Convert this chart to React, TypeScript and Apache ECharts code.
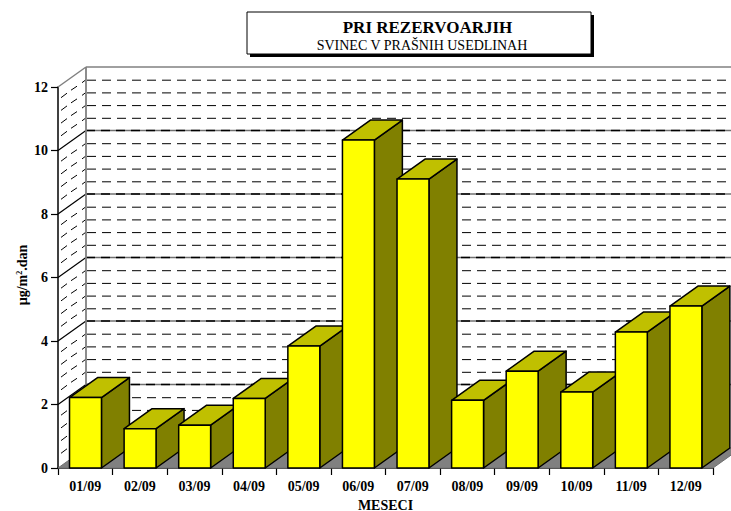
import React, { useEffect, useRef } from "react";
import * as echarts from "echarts";

const categories = ["01/09", "02/09", "03/09", "04/09", "05/09", "06/09", "07/09", "08/09", "09/09", "10/09", "11/09", "12/09"];
const leadValues = [2.22, 1.24, 1.35, 2.19, 3.84, 10.33, 9.1, 2.13, 3.05, 2.39, 4.28, 5.1];
const yTicks = [0.4, 0.8, 1.2, 1.6, 2, 2.4, 2.8, 3.2, 3.6, 4, 4.4, 4.8, 5.2, 5.6, 6, 6.4, 6.8, 7.2, 7.6, 8, 8.4, 8.8, 9.2, 9.6, 10, 10.4, 10.8, 11.2, 11.6, 12];
const titleMain = "PRI REZERVOARJIH";
const titleSub = "SVINEC V PRAŠNIH USEDLINAH";
const xName = "MESECI";
const yName = "{a|µg/m}{s|2}{a|.dan}";

const FONT = "'Liberation Serif', 'Times New Roman', serif";
const DX = 28;
const DY = -20;

export default function App() {
  const ref = useRef<HTMLDivElement>(null);
  useEffect(() => {
    document.body.style.margin = "0";
    const chart = echarts.init(ref.current!, null, { renderer: "svg" });
    const wallItem = (params: any, api: any) => {
      const v = api.value(1);
      const cs = params.coordSys;
      const y = api.coord([0, v])[1];
      const left = cs.x;
      const right = cs.x + cs.width + DX - 1;
      const major = Math.abs(v / 2 - Math.round(v / 2)) < 1e-6;
      const top = Math.abs(v - 12) < 1e-6;
      const children: any[] = [];
      if (top) {
        children.push({ type: "line", shape: { x1: left, y1: y, x2: left + DX, y2: y + DY }, style: { stroke: "#808080", lineWidth: 1.5 } });
        children.push({ type: "line", shape: { x1: left + DX, y1: y + DY, x2: right + 1, y2: y + DY }, style: { stroke: "#808080", lineWidth: 1.5 } });
      } else if (major) {
        children.push({ type: "line", shape: { x1: left, y1: y, x2: left + DX, y2: y + DY }, style: { stroke: "#000", lineWidth: 1.2 } });
        children.push({ type: "line", shape: { x1: left + DX, y1: y + DY, x2: right, y2: y + DY }, style: { stroke: "#707070", lineWidth: 1.5 } });
        children.push({ type: "line", shape: { x1: left + DX, y1: y + DY, x2: right, y2: y + DY }, style: { stroke: "#000", lineWidth: 1.5, lineDash: [9, 6] } });
      } else {
        children.push({ type: "line", shape: { x1: left + 3, y1: y - 2, x2: left + 9, y2: y - 6.5 }, style: { stroke: "#000", lineWidth: 1 } });
        children.push({ type: "line", shape: { x1: left + 13, y1: y - 9.5, x2: left + 19, y2: y - 13.5 }, style: { stroke: "#000", lineWidth: 1 } });
        children.push({ type: "line", shape: { x1: left + 24, y1: y - 17, x2: left + DX, y2: y + DY }, style: { stroke: "#000", lineWidth: 1 } });
        children.push({ type: "line", shape: { x1: left + DX + 1, y1: y + DY + 0.5, x2: right, y2: y + DY + 0.5 }, style: { stroke: "#000", lineWidth: 1, lineDash: [9, 6] } });
      }
      return { type: "group", children };
    };
    const floorItem = (params: any, api: any) => {
      const cs = params.coordSys;
      const y0 = api.coord([0, 0])[1];
      const yTop = api.coord([0, 12])[1];
      const l = cs.x;
      const r = cs.x + cs.width;
      return {
        type: "group",
        children: [
          { type: "polygon", shape: { points: [[l, y0], [l + DX, y0 + DY], [r + DX, y0 + DY], [r, y0]] }, style: { fill: "#808080", stroke: "#707070", lineWidth: 1 } },
          { type: "line", shape: { x1: l + DX, y1: yTop + DY, x2: l + DX, y2: y0 + DY }, style: { stroke: "#808080", lineWidth: 1.8 } },
        ],
      };
    };
    const barItem = (params: any, api: any) => {
      const [cx, yTop] = api.coord([api.value(0), api.value(1)]);
      const y0 = api.coord([api.value(0), 0])[1];
      const w = api.size([1, 0])[0] * 0.585;
      const l = cx - w / 2 + 0.2;
      const r = l + w;
      const line = { stroke: "#000", lineWidth: 1.5, lineJoin: "round" };
      return {
        type: "group",
        children: [
          { type: "polygon", shape: { points: [[r, yTop], [r + DX, yTop + DY], [r + DX, y0 + DY], [r, y0]] }, style: { fill: "#808000", ...line } },
          { type: "polygon", shape: { points: [[l, yTop], [l + DX, yTop + DY], [r + DX, yTop + DY], [r, yTop]] }, style: { fill: "#c0c000", ...line } },
          { type: "rect", shape: { x: l, y: yTop, width: w, height: y0 - yTop }, style: { fill: "#ffff00", ...line } },
        ],
      };
    };
    chart.setOption({
      animation: false,
      backgroundColor: "#fff",
      textStyle: { fontFamily: FONT },
      grid: { left: 58, right: 18, top: 87, bottom: 43, containLabel: false, outerBoundsMode: "none" },
      xAxis: {
        type: "category",
        data: categories,
        name: xName,
        nameLocation: "middle",
        nameGap: 30,
        nameTextStyle: { fontFamily: FONT, fontWeight: "bold", fontSize: 14, color: "#000" },
        axisLine: { show: true, lineStyle: { color: "#000", width: 1.5 } },
        axisTick: { show: true, alignWithLabel: false, length: 7, lineStyle: { color: "#000", width: 1.2 } },
        axisLabel: { fontFamily: FONT, fontWeight: "bold", fontSize: 14, color: "#000", margin: 11, interval: 0 },
        splitLine: { show: false },
      },
      yAxis: {
        type: "value",
        min: 0,
        max: 12,
        interval: 2,
        axisLine: { show: true, onZero: false, lineStyle: { color: "#000", width: 1.5 } },
        axisTick: { show: true, length: 7, lineStyle: { color: "#000", width: 1.2 } },
        axisLabel: { fontFamily: FONT, fontWeight: "bold", fontSize: 14, color: "#000", margin: 10 },
        splitLine: { show: false },
      },
      graphic: [
        { type: "rect", shape: { x: 250, y: 15, width: 344, height: 42 }, style: { fill: "#000" }, z: 10 },
        { type: "rect", shape: { x: 247, y: 12, width: 344, height: 42 }, style: { fill: "#fff", stroke: "#000", lineWidth: 1 }, z: 11 },
        { type: "text", x: 427.5, y: 27, style: { text: titleMain, fontFamily: FONT, fontWeight: "bold", fontSize: 17, fill: "#000", align: "center", verticalAlign: "middle" }, z: 12 },
        { type: "text", x: 422, y: 45, style: { text: titleSub, fontFamily: FONT, fontSize: 14, fill: "#000", align: "center", verticalAlign: "middle" }, z: 12 },
        {
          type: "text",
          x: 22,
          y: 275,
          rotation: Math.PI / 2,
          style: {
            text: yName,
            align: "center",
            verticalAlign: "middle",
            rich: {
              a: { fontFamily: FONT, fontWeight: "bold", fontSize: 14, fill: "#000" },
              s: { fontFamily: FONT, fontWeight: "bold", fontSize: 8, fill: "#000", verticalAlign: "top", lineHeight: 14 },
            },
          },
          z: 12,
        },
      ],
      series: [
        { type: "custom", name: "wall", renderItem: wallItem, data: yTicks.map((v) => [0, v]), z: 1, silent: true },
        { type: "custom", name: "floor", renderItem: floorItem, data: [[0, 0]], z: 2, silent: true },
        { type: "custom", name: "Pb", renderItem: barItem, data: leadValues.map((v, i) => [i, v]), encode: { x: 0, y: 1 }, z: 3 },
      ],
    });
    return () => chart.dispose();
  }, []);
  return <div ref={ref} style={{ position: "absolute", left: 0, top: 0, width: 731, height: 511, overflow: "hidden" }} />;
}
